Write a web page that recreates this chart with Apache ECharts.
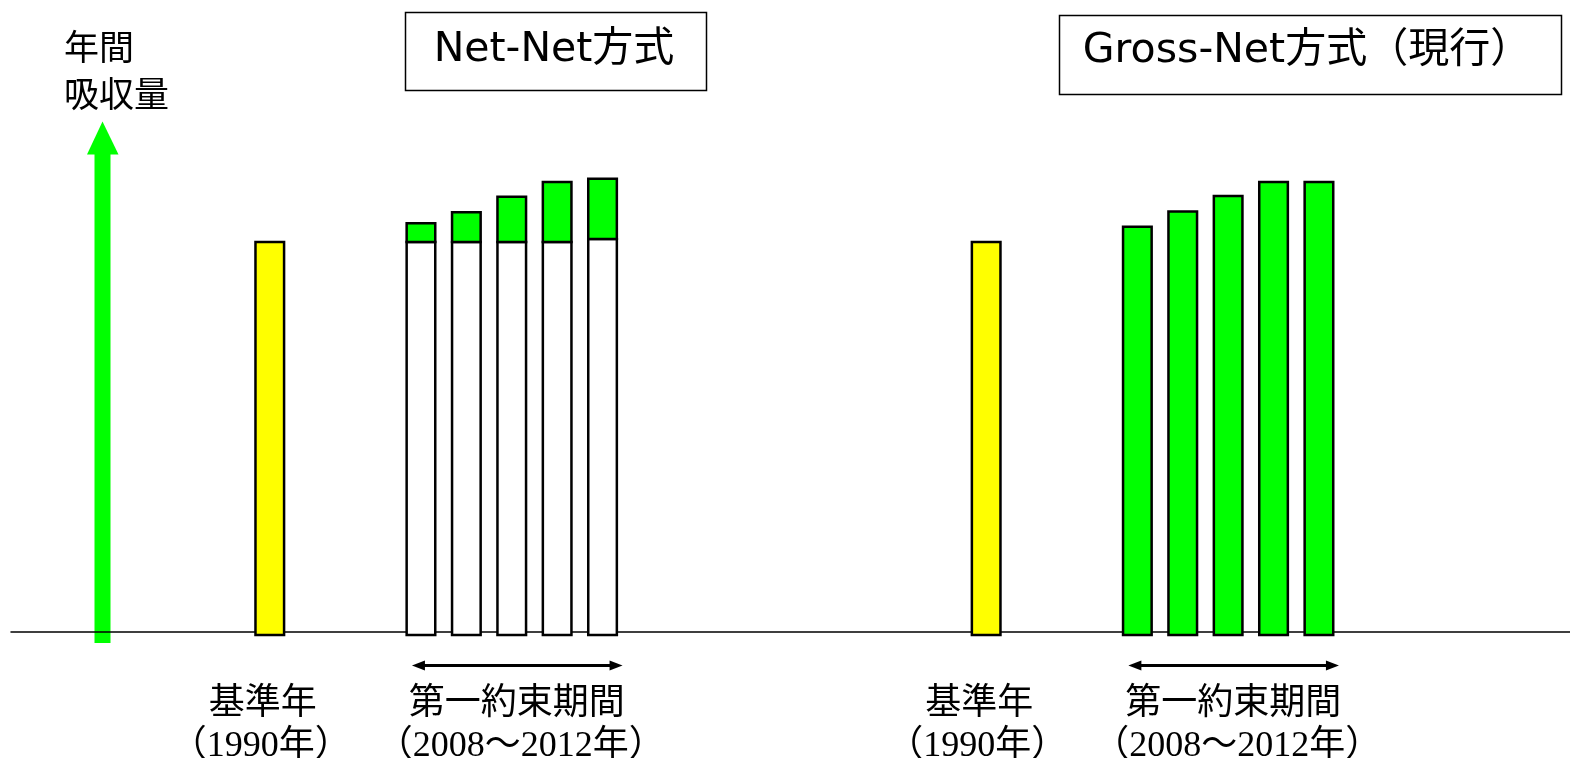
<!DOCTYPE html>
<html><head><meta charset="utf-8">
<script src="https://cdn.jsdelivr.net/npm/echarts@6/dist/echarts.min.js"></script>
<style>html,body{margin:0;padding:0;background:#fff}#c{width:1570px;height:758px}</style>
</head><body><div id="c"></div>
<script>
// ---- data ----
const axisTitle = ['年間', '吸収量'];
const panelTitles = ['Net-Net方式', 'Gross-Net方式（現行）'];
const baseYearLabel = ['基準年', '（1990年）'];
const periodLabel = ['第一約束期間', '（2008～2012年）'];
const periodYears = ['2008', '2009', '2010', '2011', '2012'];
const baseYearValue = 100;
const netNetBase = [100, 100, 100, 100, 100.8];
const netNetSink = [4.8, 7.6, 11.6, 15.4, 15.4];
const grossNetValues = [103.9, 107.8, 111.8, 115.4, 115.4];

// ---- layout (not data) ----
const PANEL_X = [0, 15.78];
const PERIOD_START = 3.33;
const BAR_W = 0.63;
const SINK_PX = 3;
const GREEN = '#00ff00', YELLOW = '#ffff00';
const CJK = '"Noto Sans CJK JP", "Noto Sans CJK SC", sans-serif';
const SERIF = '"Liberation Serif", "Noto Sans CJK JP", serif';
const TITLE_FONT = '"DejaVu Sans", "Noto Sans CJK JP", sans-serif';

const baseData = PANEL_X.map(p => [p, 0, baseYearValue]);
const netBaseData = netNetBase.map((v, i) => [PANEL_X[0] + PERIOD_START + i, 0, v]);
const netSinkData = netNetSink.map((v, i) => [PANEL_X[0] + PERIOD_START + i, netNetBase[i], netNetBase[i] + v]);
const grossData = grossNetValues.map((v, i) => [PANEL_X[1] + PERIOD_START + i, 0, v]);
const n = periodYears.length;

function barRenderer(fill) {
  return function (params, api) {
    const x = api.value(0), y0 = api.value(1), y1 = api.value(2);
    const p0 = api.coord([x, y0]), p1 = api.coord([x, y1]);
    const w = api.size([BAR_W, 0])[0];
    const extra = y0 === 0 ? SINK_PX : 0;
    return {
      type: 'rect',
      shape: { x: p0[0] - w / 2, y: p1[1], width: w, height: p0[1] - p1[1] + extra },
      style: { fill: fill, stroke: '#000', lineWidth: 2.5 }
    };
  };
}

const labelData = [];
PANEL_X.forEach(p => {
  labelData.push([p, 0]);
  labelData.push([p + PERIOD_START + (n - 1) / 2, 1]);
});
const spanData = PANEL_X.map(p => [p + PERIOD_START, p + PERIOD_START + n - 1]);

const chart = echarts.init(document.getElementById('c'));
chart.setOption({
  animation: false,
  backgroundColor: '#fff',
  grid: { left: 11, right: 0, top: 164, bottom: 126 },
  xAxis: {
    type: 'value', min: -5.7, max: 28.64,
    axisLine: { show: true, lineStyle: { color: '#000', width: 1.5 } },
    axisTick: { show: false }, axisLabel: { show: false }, splitLine: { show: false }
  },
  yAxis: { type: 'value', min: 0, max: 120, show: false, splitLine: { show: false } },
  graphic: [
    { type: 'rect', shape: { x: 94.5, y: 150, width: 16, height: 493 }, style: { fill: GREEN } },
    { type: 'polygon', shape: { points: [[102.5, 121.5], [87, 154.5], [118.5, 154.5]] }, style: { fill: GREEN } },
    { type: 'text', x: 64, y: 47, style: { text: axisTitle[0], fontSize: 35, fontFamily: CJK, align: 'left', verticalAlign: 'middle', fill: '#000' } },
    { type: 'text', x: 64, y: 94, style: { text: axisTitle[1], fontSize: 35, fontFamily: CJK, align: 'left', verticalAlign: 'middle', fill: '#000' } },
    { type: 'rect', shape: { x: 405.5, y: 12.5, width: 301, height: 78 }, style: { fill: '#fff', stroke: '#000', lineWidth: 1.5 } },
    { type: 'text', x: 554, y: 50, style: { text: panelTitles[0], fontSize: 41, fontFamily: TITLE_FONT, align: 'center', verticalAlign: 'middle', fill: '#000' } },
    { type: 'rect', shape: { x: 1059.5, y: 15.5, width: 502, height: 79 }, style: { fill: '#fff', stroke: '#000', lineWidth: 1.5 } },
    { type: 'text', x: 1307, y: 51, style: { text: panelTitles[1], fontSize: 41, fontFamily: TITLE_FONT, align: 'center', verticalAlign: 'middle', fill: '#000' } }
  ],
  series: [
    { name: '基準年', type: 'custom', renderItem: barRenderer(YELLOW), data: baseData, encode: { x: 0, y: [1, 2] }, z: 3 },
    { name: 'Net-Net 排出', type: 'custom', renderItem: barRenderer('#fff'), data: netBaseData, encode: { x: 0, y: [1, 2] }, z: 3 },
    { name: 'Net-Net 吸収', type: 'custom', renderItem: barRenderer(GREEN), data: netSinkData, encode: { x: 0, y: [1, 2] }, z: 3 },
    { name: 'Gross-Net 吸収', type: 'custom', renderItem: barRenderer(GREEN), data: grossData, encode: { x: 0, y: [1, 2] }, z: 3 },
    {
      name: 'span', type: 'custom', data: spanData, encode: { x: [0, 1] }, z: 3,
      renderItem: function (params, api) {
        const a = api.coord([api.value(0), 0]), b = api.coord([api.value(1), 0]);
        const y = a[1] + 33.5;
        const x1 = a[0] - 9, x2 = b[0] + 20;
        const hl = 13, hh = 5;
        return {
          type: 'group', children: [
            { type: 'line', shape: { x1: x1 + hl - 2, y1: y, x2: x2 - hl + 2, y2: y }, style: { stroke: '#000', lineWidth: 3 } },
            { type: 'polygon', shape: { points: [[x1, y], [x1 + hl, y - hh], [x1 + hl, y + hh]] }, style: { fill: '#000' } },
            { type: 'polygon', shape: { points: [[x2, y], [x2 - hl, y - hh], [x2 - hl, y + hh]] }, style: { fill: '#000' } }
          ]
        };
      }
    },
    {
      name: 'labels', type: 'custom', data: labelData, encode: { x: 0 }, z: 3,
      renderItem: function (params, api) {
        const which = api.value(1);
        const p = api.coord([api.value(0), 0]);
        const lines = which === 0 ? baseYearLabel : periodLabel;
        const cx = p[0] + (which === 0 ? -7 : 5);
        return {
          type: 'group', children: [
            { type: 'text', x: cx, y: p[1] + 68, style: { text: lines[0], fontSize: 36, fontFamily: CJK, align: 'center', verticalAlign: 'middle', fill: '#000' } },
            { type: 'text', x: cx + (which === 0 ? -2 : 4), y: p[1] + 115, style: { text: lines[1], fontSize: 36, fontFamily: SERIF, align: 'center', verticalAlign: 'middle', fill: '#000' } }
          ]
        };
      }
    }
  ]
});
</script>
</body></html>
